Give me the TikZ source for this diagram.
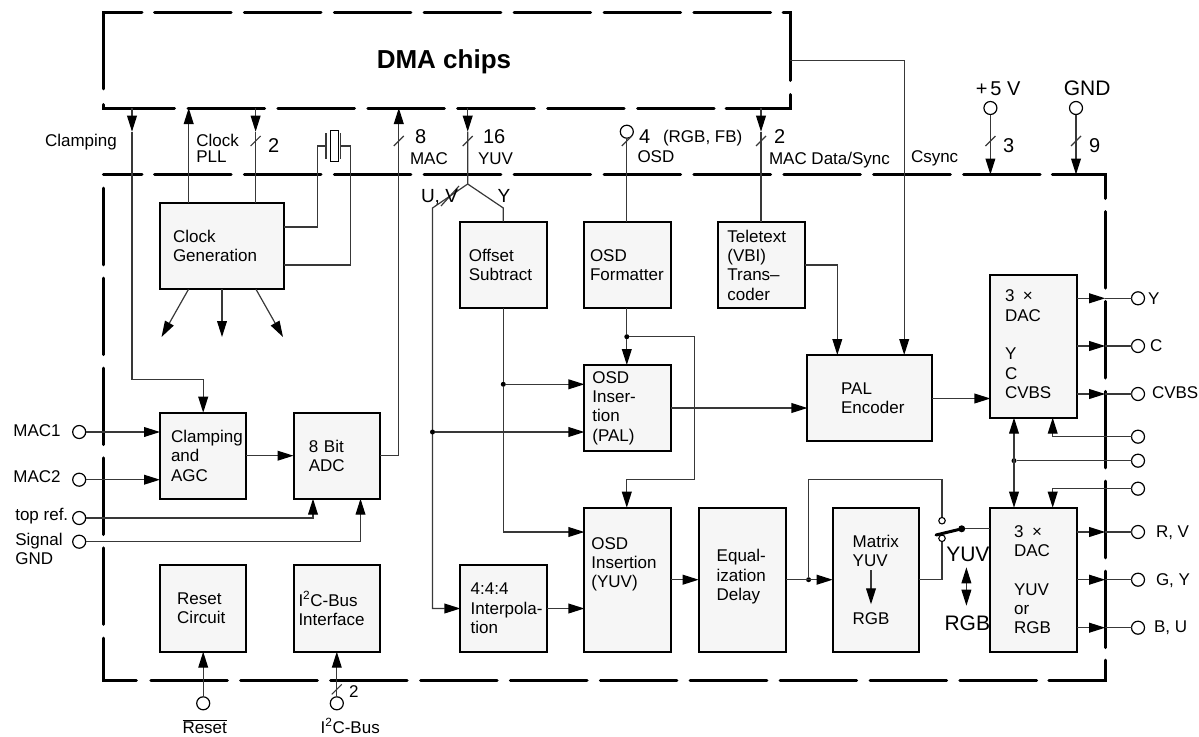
\documentclass[tikz,border=0pt]{standalone}
\usepackage{fontspec}
\setmainfont{Liberation Sans}
\usepackage{xcolor}
\usetikzlibrary{arrows.meta,calc}
\definecolor{boxfill}{HTML}{F6F6F6}

\begin{document}
\begin{tikzpicture}[
    x=1pt, y=-1pt,
    every node/.style={font=\fontsize{17}{19.3}\selectfont},
    block/.style n args={3}{rectangle, draw=black, fill=boxfill, line width=2pt, anchor=north west, outer sep=0pt, inner sep=0pt, minimum width=#1pt, minimum height=#2pt, text width=#1pt, execute at begin node={\raggedright\leftskip=#3pt\relax}},
    term/.style={circle, draw=black, fill=white, line width=1.2pt, minimum size=13pt, inner sep=0pt, outer sep=0pt},
    swpin/.style={circle, draw=black, fill=white, line width=1.1pt, minimum size=6.5pt, inner sep=0pt, outer sep=0pt},
    dot/.style={circle, fill=black, minimum size=5pt, inner sep=0pt, outer sep=0pt},
    lab/.style={anchor=base west, inner sep=0pt, outer sep=0pt},
    biglab/.style={lab, font=\fontsize{20}{22}\selectfont},
    wire/.style={line width=1.2pt, draw=black!78},
    arrow/.style={wire, -{Triangle[length=16pt,width=9.8pt,color=black]}},
    dblarrow/.style={wire, {Triangle[length=16pt,width=9.8pt,color=black]}-{Triangle[length=16pt,width=9.8pt,color=black]}},
    bound/.style={line width=3pt, line cap=round, draw=black},
    boundrun/.style={bound, dash pattern=on 76.6pt off 13.3pt}
]
\useasboundingbox (0,0) rectangle (1199,736);

% Dashed outlines
\draw[bound] (103.3,88.8) -- (103.3,12.5) -- (142,12.5);
\draw[boundrun] (154.5,12.5) -- (770.5,12.5);
\draw[bound] (783,12.5) -- (790.2,12.5) -- (790.2,80.5);
\draw[bound] (790.2,94.5) -- (790.2,108) -- (726,108);
\draw[boundrun] (188,108) -- (714,108);
\draw[bound] (103.3,104.5) -- (103.3,108) -- (174.5,108);
\draw[bound] (103.3,174.5) -- (142,174.5);
\draw[boundrun] (154.5,174.5) -- (1040.2,174.5);
\draw[bound] (1052.3,174.5) -- (1105.2,174.5) -- (1105.2,198.5);
\draw[boundrun] (1105.2,211.5) -- (1105.2,647.7);
\draw[bound] (1105.2,660.2) -- (1105.2,680) -- (1048.8,680);
\draw[boundrun] (150.8,680) -- (1036.5,680);
\draw[bound] (103.3,638.2) -- (103.3,680) -- (136.3,680);
\draw[boundrun] (103.3,188.2) -- (103.3,624.4);
\node[lab, font=\fontsize{26}{28}\selectfont\bfseries] (dma) at (376.8,68) {DMA chips};

% Rails
\coordinate (dmab) at (0,108);
\coordinate (ctop) at (0,174.5);
\coordinate (ytip) at (0,131.7);
\coordinate (xclamp) at (132,0);
\coordinate (xpll) at (188.7,0);
\coordinate (xclk) at (255.6,0);
\coordinate (xmac) at (398.8,0);
\coordinate (xuv) at (432.5,0);
\coordinate (xyuv) at (467.7,0);
\coordinate (xy) at (503.3,0);
\coordinate (xosd) at (626.8,0);
\coordinate (xloop) at (694.5,0);
\coordinate (xdata) at (761,0);
\coordinate (xtele) at (837.3,0);
\coordinate (xcsync) at (904.2,0);
\coordinate (xdacm) at (1014,0);
\coordinate (xdacr) at (1052.7,0);
\coordinate (xbus) at (1105.2,0);

% Blocks
\node[block={124.3}{86.6}{13}] (clock) at (160,202.7) {Clock\\Generation};
\node[block={86.1}{86.6}{8.4}] (offset) at (460.4,221.7) {Offset\\Subtract};
\node[block={86.4}{86.6}{5.6}] (osdfmt) at (584.4,221.7) {OSD\\Formatter};
\node[block={86.8}{86.6}{9.5}] (tele) at (717.9,221.7) {Teletext\\(VBI)\\Trans–\\coder};
\node[block={86.4}{86}{8}] (osdpal) at (584.4,365) {OSD\\Inser-\\tion\\(PAL)};
\node[block={124.8}{86.3}{33.7}] (palenc) at (807.4,355) {PAL\\Encoder};
\node[block={86.1}{142.7}{14.6}] (dacone) at (990.4,275) {3 \,×\\DAC\\~\\Y\\C\\CVBS\\[-15pt]~};
\node[block={86}{86}{11}] (clamp) at (160,412.7) {Clamping\\and\\AGC};
\node[block={86.5}{86}{15.3}] (adc) at (293.5,412.7) {8 Bit\\ADC};
\node[block={86}{86.4}{17.2}] (reset) at (160,565.3) {Reset\\Circuit};
\node[block={86.5}{86.4}{5}] (iic) at (293.5,565.3) {I\textsuperscript{2}C-Bus\\Interface};
\node[block={86.1}{86.4}{10.3}] (interp) at (460.4,565.3) {4:4:4\\Interpola-\\tion};
\node[block={86.4}{144}{7}] (osdyuv) at (584.4,507.7) {OSD\\Insertion\\(YUV)\\[15pt]~};
\node[block={86.9}{144}{18}] (equal) at (698.7,507.7) {Equal-\\ization\\Delay\\[-10pt]~};
\node[block={86.5}{144}{20}] (mtx) at (832.7,507.7) {Matrix\\YUV\\[38.6pt]RGB};
\node[block={86.1}{144}{23.7}] (dactwo) at (990.4,507.7) {3 \,×\\DAC\\~\\YUV\\or\\RGB};

% Terminals
\node[term] (mac1) at (79.2,432) {};
\node[term] (mac2) at (79.2,479.7) {};
\node[term] (topref) at (79.2,518) {};
\node[term] (siggnd) at (79.2,541.7) {};
\node[term] (rstpin) at (203.2,703.3) {};
\node[term] (iicpin) at (336.8,703.3) {};
\node[term] (osdpin) at (626.8,131.7) {};
\node[term] (vcc) at (990.4,108) {};
\node[term] (gnd) at (1076,108) {};
\node[term] (oy) at (1138,298.3) {};
\node[term] (oc) at (1138,346) {};
\node[term] (ocvbs) at (1138,394) {};
\node[term] (pinfb) at (1138,436.7) {};
\node[term] (pinbus) at (1138,460.7) {};
\node[term] (pinref) at (1138,488.7) {};
\node[term] (orv) at (1138,532) {};
\node[term] (ogy) at (1138,579.7) {};
\node[term] (obu) at (1138,627.7) {};

% Links to the DMA chips
\coordinate (cturn) at (203.2,379.3);
\draw[arrow] (xclamp |- dmab) -- (xclamp |- ytip);
\draw[arrow] (xclamp |- ytip) |- (cturn) -- (clamp.north -| cturn);
\draw[arrow] (clock.north -| xpll) -- (xpll |- dmab);
\draw[arrow] (xclk |- dmab) -- (xclk |- ytip);
\draw[wire] (xclk |- ytip) -- (clock.north -| xclk);
\draw[arrow] (adc.east) -| (xmac |- dmab);
\coordinate (fork) at (467.7,184);
\coordinate (forkl) at (432.5,208);
\coordinate (forkr) at (503.3,208);
\draw[arrow] (xyuv |- dmab) -- (xyuv |- ytip);
\draw[wire] (xyuv |- ytip) -- (fork) -- (forkr) -- (offset.north -| forkr);
\draw[arrow] (fork) -- (forkl) |- (interp.west);
\draw[wire] (osdpin) -- (osdfmt.north -| osdpin);
\draw[arrow] (xdata |- dmab) -- (xdata |- ytip);
\draw[wire] (xdata |- ytip) -- (tele.north -| xdata);
\coordinate (csout) at (790.2,60.3);
\draw[arrow] (csout) -| (palenc.north -| xcsync);
\draw[arrow] (vcc) -- (vcc |- ctop);
\draw[arrow] (gnd) -- (gnd |- ctop);

% Crystal
\coordinate (xtl) at (326,146);
\coordinate (xtr) at (340.6,146);
\coordinate (xwl) at (317.6,227);
\coordinate (xwr) at (350.2,265);
\node[draw=black, line width=1.1pt, minimum width=7.7pt, minimum height=31pt, inner sep=0pt] (xtal) at (334.2,146) {};
\draw[wire] (326,133) -- (326,159);
\draw[wire] (340.6,133) -- (340.6,159);
\draw[wire] (clock.east |- xwl) -- (xwl) |- (xtl);
\draw[wire] (clock.east |- xwr) -- (xwr) |- (xtr);

% Clock outputs
\coordinate (ckl) at (161.5,337);
\coordinate (ckm) at (222,337);
\coordinate (ckr) at (283,337);
\draw[arrow] (188.5,289.3) -- (ckl);
\draw[arrow] (clock.south -| ckm) -- (ckm);
\draw[arrow] (256,289.3) -- (ckr);

% Inputs on the left
\draw[arrow] (mac1) -- (mac1 -| clamp.west);
\draw[arrow] (mac2) -- (mac2 -| clamp.west);
\draw[arrow] (clamp.east |- adc.west) -- (adc.west);
\coordinate (atop) at (313,0);
\coordinate (asig) at (360.5,0);
\draw[arrow] (topref) -| (adc.south -| atop);
\draw[arrow] (siggnd) -| (adc.south -| asig);
\draw[arrow] (rstpin) -- (reset.south -| rstpin);
\draw[arrow] (iicpin) -- (iic.south -| iicpin);

% Video path
\node[dot] (juv) at (432.5,432) {};
\node[dot] (joff) at (503.3,384.3) {};
\node[dot] (josd) at (626.8,336.7) {};
\node[dot] (jeq) at (808.6,579.7) {};
\draw[arrow] (juv) -- (juv -| osdpal.west);
\draw[wire] (offset.south -| joff) -- (joff);
\draw[arrow] (joff) -- (joff -| osdpal.west);
\coordinate (offturn) at (503.3,532);
\draw[arrow] (joff) -- (offturn) -- (offturn -| osdyuv.west);
\draw[wire] (osdfmt.south -| josd) -- (josd);
\draw[arrow] (josd) -- (osdpal.north -| josd);
\coordinate (loopr) at (694.5,336.7);
\coordinate (loopb) at (694.5,479.7);
\draw[arrow] (josd) -- (loopr) -- (loopb) -| (osdyuv.north -| xosd);
\draw[arrow] (interp.east) -- (interp.east -| osdyuv.west);
\draw[arrow] (osdyuv.east |- equal.west) -- (equal.west);
\draw[arrow] (equal.east) -- (mtx.west);
\draw[arrow] (osdpal.east |- 0,408) -- (palenc.west |- 0,408);
\coordinate (telet) at (837.3,265);
\draw[arrow] (tele.east |- telet) -| (palenc.north -| telet);
\coordinate (palout) at (932.2,398.5);
\draw[arrow] (palout) -- (palout -| dacone.west);
\coordinate (mtxa) at (871,570);
\coordinate (mtxb) at (871,604.3);
\draw[arrow] (mtxa) -- (mtxb);

% Switch
\node[swpin] (swtop) at (942,520.7) {};
\node[swpin] (swlow) at (942,538.3) {};
\node[dot, minimum size=7pt] (swend) at (961.7,528.8) {};
\coordinate (loopc) at (942,479.7);
\draw[wire] (jeq) |- (loopc) -- (swtop);
\draw[wire] (mtx.east) -| (swlow);
\draw[line width=3pt, line cap=round] (936,535) -- (swend);
\draw[wire] (swend) -- (swend -| dactwo.west);
\coordinate (swa) at (966.4,567.3);
\coordinate (swb) at (966.4,605.7);
\draw[dblarrow] (swa) -- (swb);

% Outputs on the right
\foreach \pin/\dac in {oy/dacone,oc/dacone,ocvbs/dacone,orv/dactwo,ogy/dactwo,obu/dactwo} {
    \draw[arrow] (\pin -| \dac.east) -- (\pin -| xbus);
    \draw[wire] (\pin -| xbus) -- (\pin);
}
\node[dot] (jdac) at (1014,460.7) {};
\draw[dblarrow] (dacone.south -| jdac) -- (dactwo.north -| jdac);
\draw[wire] (pinbus) -- (jdac);
\draw[arrow] (pinfb) -| (dacone.south -| xdacr);
\draw[arrow] (pinref) -| (dactwo.north -| xdacr);

% Bus ticks
\foreach \bx/\by in {255.6/141, 398.8/141, 467.7/141, 626.8/141, 761/141, 990.4/141, 1076/141, 336.8/689.3}
    \draw[wire] (\bx-5,\by+5) -- (\bx+5,\by-5);
\draw[wire] (441,206) -- (459,186);

% Labels
\node[lab] (lclamping) at (45,146) {Clamping};
\node[lab] (lclock) at (196.3,146) {Clock};
\node[lab] (lpll) at (196.3,162) {PLL};
\node[biglab] (lclk) at (268,152) {2};
\node[biglab] (lmacn) at (415,143) {8};
\node[lab] (lmac) at (410,164) {MAC};
\node[biglab] (lyuvn) at (483,143) {16};
\node[lab] (lyuv) at (478,164) {YUV};
\node[lab, font=\fontsize{19}{21}\selectfont] (luv) at (421,202) {U, V};
\node[lab, font=\fontsize{19}{21}\selectfont] (ly) at (497.5,202) {Y};
\node[biglab] (losdn) at (639,143) {4};
\node[lab] (lrgb) at (663,142.5) {(RGB, FB)};
\node[lab] (losd) at (637.5,162) {OSD};
\node[biglab] (ldatan) at (774,143) {2};
\node[lab] (ldata) at (769,164) {MAC Data/Sync};
\node[lab] (lcsync) at (911,162) {Csync};
\node[biglab] (lvcc) at (975.8,95.5) {+\hspace{3pt}5 V};
\node[biglab, font=\fontsize{21}{23}\selectfont] (lgnd) at (1063.8,95.5) {GND};
\node[biglab] (lvccn) at (1003,152) {3};
\node[biglab] (lgndn) at (1089,152) {9};
\node[lab] (lmac1) at (13.4,436) {MAC1};
\node[lab] (lmac2) at (13.4,482) {MAC2};
\node[lab] (ltop) at (15.3,520) {top ref.};
\node[lab] (lsig) at (15.3,545.3) {Signal};
\node[lab] (lsgnd) at (15.3,564.3) {GND};
\node[lab] (lrst) at (182.5,733.5) {$\overline{\mbox{Reset}}$};
\node[lab] (liicn) at (349,697) {2};
\node[lab] (liic) at (320.7,733) {I\textsuperscript{2}C-Bus};
\node[lab] (lswy) at (946.3,561.5) [font=\fontsize{21}{23}\selectfont] {YUV};
\node[lab] (lswr) at (944.5,630.5) [font=\fontsize{21}{23}\selectfont] {RGB};
\node[lab] (loy) at (1148,304) {Y};
\node[lab] (loc) at (1150,351) {C};
\node[lab] (locvbs) at (1152,398) {CVBS};
\node[lab] (lorv) at (1156,537) {R, V};
\node[lab] (logy) at (1156,585) {G, Y};
\node[lab] (lobu) at (1154,632) {B, U};

\end{tikzpicture}
\end{document}
